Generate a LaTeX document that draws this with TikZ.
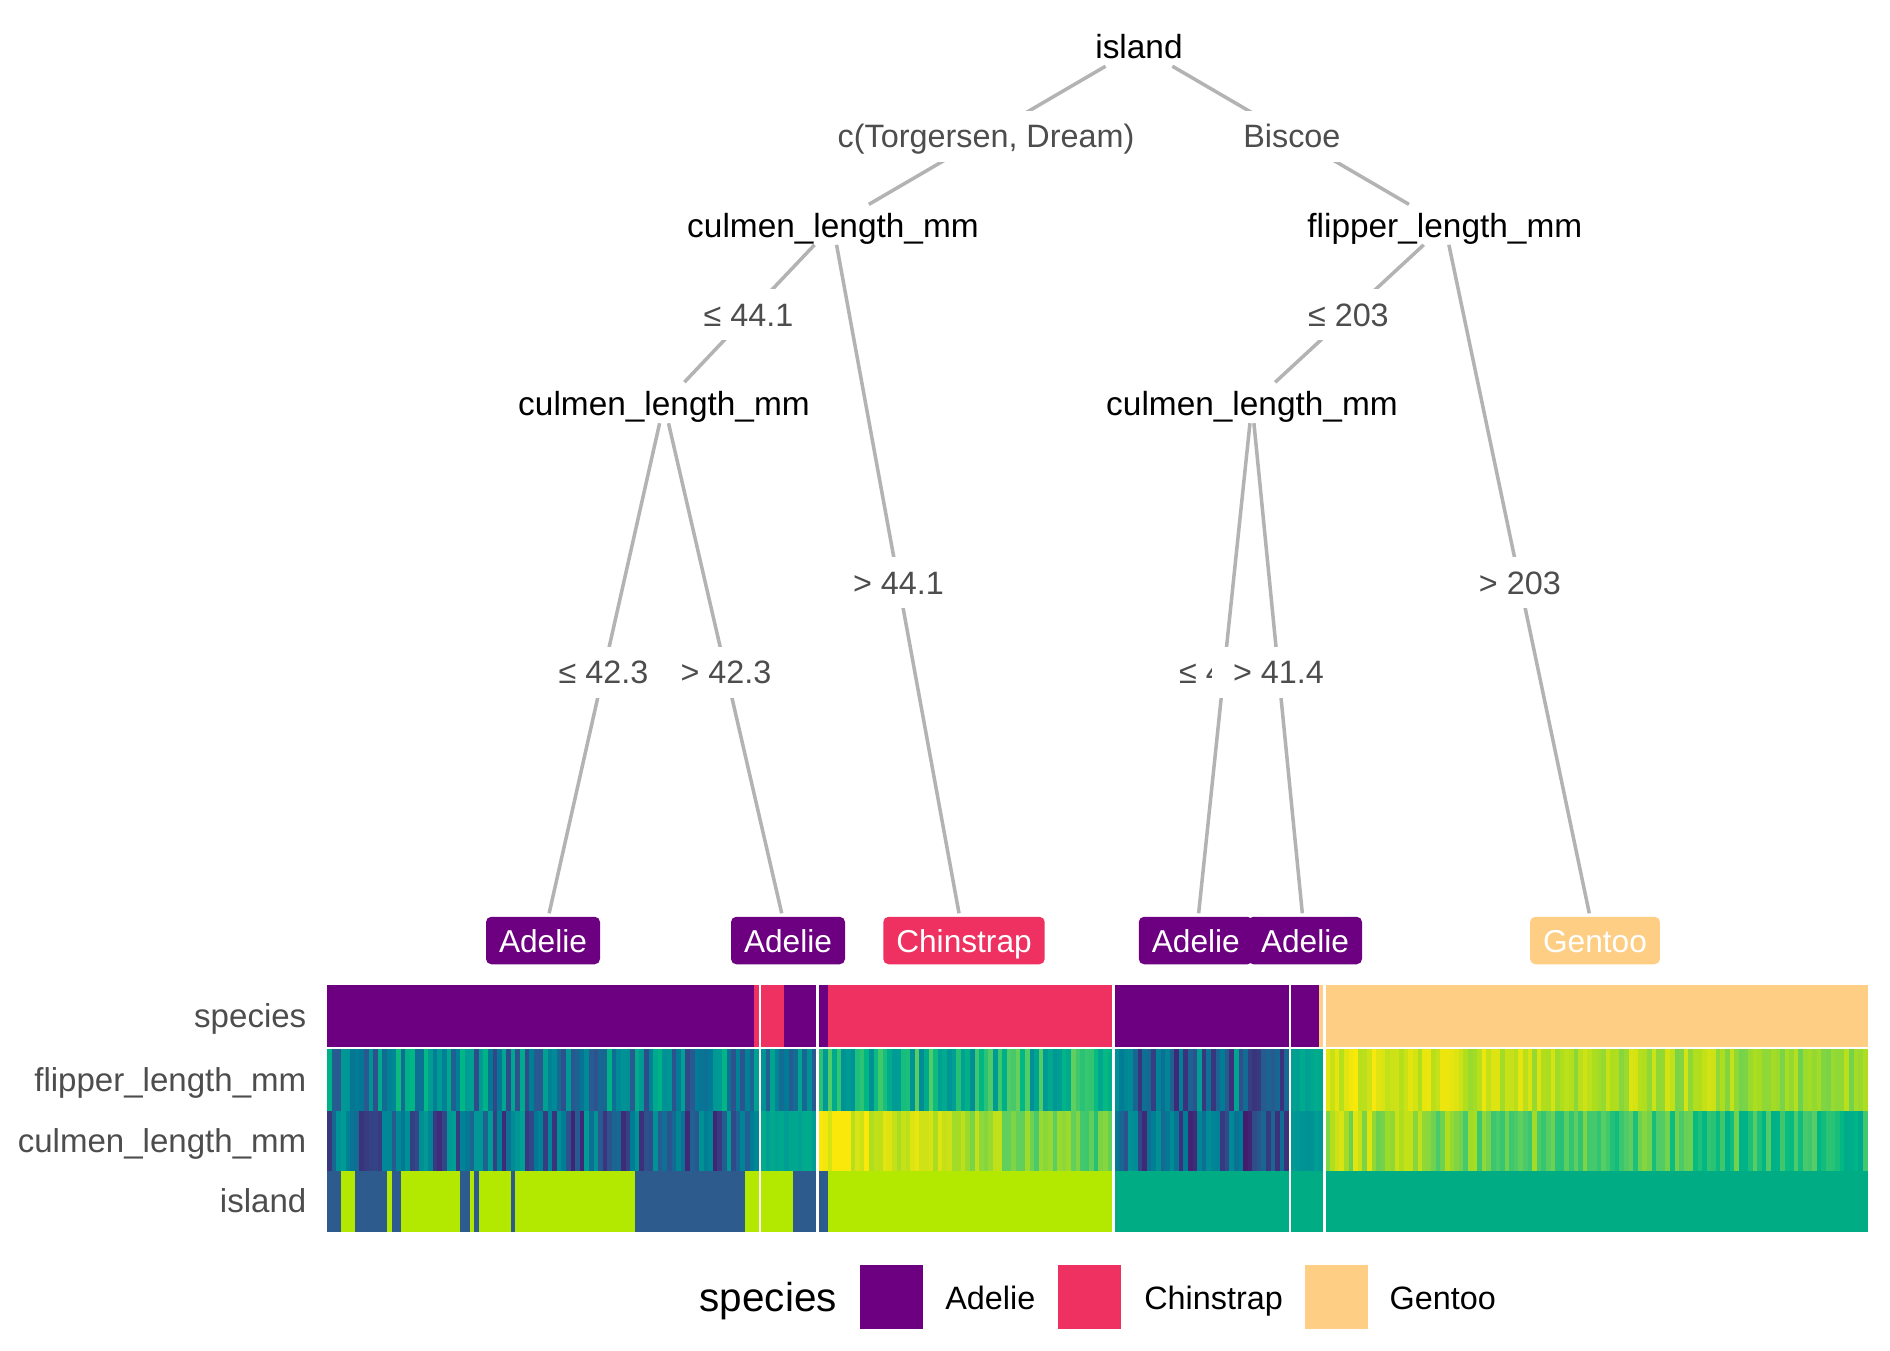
\documentclass[tikz,border=0pt]{standalone}
\usepackage{fontspec}
\setmainfont{Liberation Sans}
\usetikzlibrary{calc}

\definecolor{adelie}{HTML}{6C0080}
\definecolor{chinstrap}{HTML}{EE3160}
\definecolor{gentoo}{HTML}{FECE85}
\definecolor{torgersen}{HTML}{2E5B8E}
\definecolor{dream}{HTML}{B3E800}
\definecolor{biscoe}{HTML}{00AC84}
\definecolor{branchgray}{HTML}{B3B3B3}
\definecolor{labgray}{HTML}{4D4D4D}
\definecolor{vir0}{HTML}{4B0055}
\definecolor{vir1}{HTML}{3F2A78}
\definecolor{vir2}{HTML}{2A5890}
\definecolor{vir3}{HTML}{007B96}
\definecolor{vir4}{HTML}{009B95}
\definecolor{vir5}{HTML}{00B884}
\definecolor{vir6}{HTML}{53CC67}
\definecolor{vir7}{HTML}{ADDE1E}
\definecolor{vir8}{HTML}{FAE80A}

\newcommand{\setvir}[1]{%
  \pgfmathsetmacro{\vt}{min(max(#1,0),0.999)*8}%
  \pgfmathtruncatemacro{\vi}{floor(\vt)}%
  \pgfmathtruncatemacro{\vp}{100-100*(\vt-\vi)}%
  \pgfmathtruncatemacro{\vj}{\vi+1}%
  \colorlet{cur}{vir\vi!\vp!vir\vj}}

\newcommand{\runrow}[2]{%
  \xdef\xpos{327.3}%
  \foreach \rc/\rn in {#2}{%
    \fill[\rc] (\xpos,#1) rectangle ++(\rn*4.59+0.3,61.5);
    \pgfmathsetmacro{\xnew}{\xpos+\rn*4.59}\xdef\xpos{\xnew}}}

\begin{document}
\begin{tikzpicture}
        [x=0.01cm, y=-0.01cm,
        splitnode/.style={font=\fontsize{9.5}{11}\selectfont, text height=6.9pt, text depth=0pt, inner xsep=1pt, inner ysep=1.9pt},
        leafnode/.style={rounded corners=1.5pt, text=white, font=\fontsize{9}{11}\selectfont, minimum height=13.5pt, inner xsep=3.7pt, text height=6.6pt, text depth=0pt},
        edgelabel/.style={fill=white, text=labgray, font=\fontsize{9.2}{11}\selectfont, inner xsep=6pt, inner ysep=0pt, minimum height=14.5pt, text height=6.7pt, text depth=0pt},
        branch/.style={draw=branchgray, line width=1pt, shorten >=0.8pt},
        rowlabel/.style={anchor=east, text=labgray, font=\fontsize{9.4}{11}\selectfont, inner sep=0pt, text height=6.8pt, text depth=0pt},
        legendtext/.style={anchor=west, font=\fontsize{9.2}{11}\selectfont, inner sep=0pt, text height=6.7pt, text depth=0pt},
        legendkey/.style={minimum width=17.9pt, minimum height=18.3pt, inner sep=0pt}]

        \useasboundingbox (0,0) rectangle (1890,1350);

        \node[splitnode] (n1) at (1139, 46.7) {island};
        \node[splitnode] (n2) at (833, 225.3) {culmen\_length\_mm};
        \node[splitnode] (n3) at (664, 403.7) {culmen\_length\_mm};
        \node[splitnode] (n7) at (1444.8, 225.3) {flipper\_length\_mm};
        \node[splitnode] (n8) at (1252, 403.7) {culmen\_length\_mm};

        \node[leafnode, fill=adelie] (t4) at (543, 940.5) {Adelie};
        \node[leafnode, fill=adelie] (t5) at (788, 940.5) {Adelie};
        \node[leafnode, fill=chinstrap] (t6) at (964, 940.5) {Chinstrap};
        \node[leafnode, fill=adelie] (t9) at (1195.8, 940.5) {Adelie};
        \node[leafnode, fill=adelie] (t10) at (1305, 940.5) {Adelie};
        \node[leafnode, fill=gentoo] (t11) at (1595, 940.5) {Gentoo};

        \draw[branch] (n1) -- (n2);
        \draw[branch] (n1) -- (n7);
        \draw[branch] (n2) -- (n3);
        \draw[branch] (n2) -- (t6);
        \draw[branch] (n3) -- (t4);
        \draw[branch] (n3) -- (t5);
        \draw[branch] (n7) -- (n8);
        \draw[branch] (n7) -- (t11);
        \draw[branch] (n8) -- (t9);
        \draw[branch] (n8) -- (t10);

        \node[edgelabel] (e12) at ($(n1)!.5!(n2)$) {c(Torgersen, Dream)};
        \node[edgelabel] (e17) at ($(n1)!.5!(n7)$) {Biscoe};
        \node[edgelabel] (e23) at ($(n2)!.5!(n3)$) {≤ 44.1};
        \node[edgelabel] (e26) at ($(n2)!.5!(t6)$) {> 44.1};
        \node[edgelabel] (e34) at ($(n3)!.5!(t4)$) {≤ 42.3};
        \node[edgelabel] (e35) at ($(n3)!.5!(t5)$) {> 42.3};
        \node[edgelabel] (e78) at ($(n7)!.5!(n8)$) {≤ 203};
        \node[edgelabel] (e711) at ($(n7)!.5!(t11)$) {> 203};
        \node[edgelabel] (e89) at ($(n8)!.5!(t9)$) {≤ 41.4};
        \node[edgelabel] (e810) at ($(n8)!.5!(t10)$) {> 41.4};

        \runrow{985}{adelie/93, chinstrap/1, white/0.5, chinstrap/5, adelie/7, white/0.5, adelie/2, chinstrap/62, white/0.5, adelie/38, white/0.5, adelie/6, gentoo/1, white/0.5, gentoo/118}
        \runrow{1170.7}{torgersen/3, dream/3, torgersen/7, dream/1, torgersen/2, dream/13, torgersen/2, dream/1, torgersen/1, dream/7, torgersen/1, dream/26, torgersen/24, dream/3, white/0.5, dream/7, torgersen/5, white/0.5, torgersen/2, dream/62, white/0.5, biscoe/38, white/0.5, biscoe/7, white/0.5, biscoe/118}

        \pgfmathsetseed{7}
        \foreach \gx/\gn/\fa/\fb/\fc/\ca/\cb/\cc in {327.3/94/0.2/0/0.45/0.1/0/0.42, 761.1/12/0.25/0/0.35/0.5/0/0.07, 818.5/64/0.4/0.05/0.35/0.92/-0.25/0.15, 1114.6/38/0.1/0/0.45/0.08/0/0.4, 1291.3/7/0.5/0/0.1/0.45/0/0.1, 1325.7/118/0.88/-0.12/0.14/0.78/-0.25/0.2}{
          \foreach \k in {1,...,\gn}{
            \pgfmathsetmacro{\xk}{\gx+(\k-1)*4.59}
            \setvir{\fa+\fb*\k/\gn+\fc*rnd}
            \fill[cur] (\xk,1049) rectangle ++(4.9,61.7);
            \setvir{\ca+\cb*\k/\gn+\cc*rnd}
            \fill[cur] (\xk,1110.7) rectangle ++(4.9,60);
          }
        }
        \foreach \sx in {758.8, 816.2, 1112.3, 1289, 1323.4}
          \fill[white] (\sx,985) rectangle ++(2.3,246.7);

        \node[rowlabel] (rsp) at (307, 1016) {species};
        \node[rowlabel] (rfl) at (307, 1080) {flipper\_length\_mm};
        \node[rowlabel] (rcu) at (307, 1141) {culmen\_length\_mm};
        \node[rowlabel] (ris) at (307, 1201) {island};

        \node[legendtext, font=\fontsize{11.5}{13}\selectfont, text height=8.2pt] (lt) at (699, 1297.5) {species};
        \node[legendkey, fill=adelie] (ka) at (891.4, 1297.2) {};
        \node[legendtext] (la) at (944.7, 1297.5) {Adelie};
        \node[legendkey, fill=chinstrap] (kc) at (1089.2, 1297.2) {};
        \node[legendtext] (lc) at (1143.6, 1297.5) {Chinstrap};
        \node[legendkey, fill=gentoo] (kg) at (1336.5, 1297.2) {};
        \node[legendtext] (lg) at (1389, 1297.5) {Gentoo};

      \end{tikzpicture}
\end{document}
